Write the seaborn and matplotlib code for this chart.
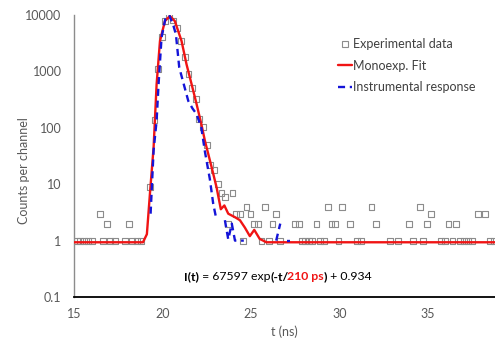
import matplotlib.pyplot as plt
import numpy as np
import pandas as pd
import seaborn as sns
from matplotlib.lines import Line2D
from matplotlib.offsetbox import AnnotationBbox, HPacker, TextArea

# ── data ──────────────────────────────────────────────────────────────────────
exp_t = [15.15, 15.36, 15.57, 15.78, 16.0, 16.45, 16.66, 16.85, 17.03, 17.32,
         17.88, 18.12, 18.26, 18.54, 18.8,
         19.3, 19.55, 19.75, 19.95, 20.16, 20.38, 20.61, 20.84, 21.05, 21.25,
         21.47, 21.69, 21.9, 22.08, 22.3, 22.5, 22.68, 22.9, 23.12, 23.34,
         23.55, 23.72, 23.96, 24.15, 24.36, 24.57, 24.75, 24.98, 25.17, 25.4,
         25.6, 25.82, 26.0, 26.22, 26.43, 26.66,
         27.47, 27.7, 27.88, 28.07, 28.26, 28.47, 28.71, 28.9, 29.15, 29.37,
         29.56, 29.77, 29.95, 30.14, 30.6, 30.98, 31.22, 31.82, 32.06, 32.85,
         33.32, 33.92, 34.15, 34.55, 34.75, 34.98, 35.18, 35.77, 35.98, 36.17,
         36.4, 36.6, 36.83, 37.05, 37.26, 37.5, 37.84, 38.22, 38.5, 38.75]
exp_counts = [1, 1, 1, 1, 1, 3, 1, 2, 1, 1,
              1, 2, 1, 1, 1,
              9, 137, 1120, 4000, 7900, 10000, 8000, 5800, 3500, 1800,
              900, 500, 320, 142, 104, 50, 22, 18, 10, 7,
              6, 2, 7, 3, 3, 1, 4, 3, 2, 2,
              1, 4, 1, 2, 3, 1,
              2, 2, 1, 1, 1, 1, 2, 1, 1, 4,
              2, 2, 1, 4, 2, 1, 1, 4, 2, 1,
              1, 2, 1, 4, 1, 2, 3, 1, 1, 2,
              1, 2, 1, 1, 1, 1, 3, 3, 1, 1]

fit_t = [15.0, 18.9, 19.12, 19.32, 19.5, 19.67, 19.86, 20.14, 20.42, 20.7,
         21.08, 21.36, 21.65, 21.93, 22.2, 22.4, 22.78, 23.06, 23.3, 23.5,
         23.72, 24.1, 24.38, 24.66, 24.94, 25.19, 25.5, 25.88, 38.8]
fit_counts = [0.934, 0.934, 1.3, 8.8, 45, 590, 3460, 7800, 9600, 7800,
              3460, 1340, 590, 263, 116, 59, 20, 8.8, 3.6, 4.2,
              3.0, 2.6, 2.3, 1.7, 1.2, 1.55, 1.07, 0.934, 0.934]

# instrumental response: zero-count channels break the line on the log axis
irf_t = [19.33, 19.5, 19.67, 19.78, 19.95, 20.16, 20.38, 20.6, 20.76, 20.95,
         21.2, 21.46, 21.7, 21.93, 22.2, 22.4, 22.68, 22.87, 23.06,
         23.53, 23.72, 23.92, 24.1, 24.3, 24.6,
         26.43, 26.66,
         27.05, 27.22]
irf_counts = [3, 40, 133, 590, 4000, 8400, 10000, 6800, 4570, 1170,
              600, 300, 220, 175, 100, 38, 12.3, 4.5, 2.3,
              2.3, 1.05, 2, 1, 1, 1,
              1, 2,
              1, 1]
irf_segment = [0] * 19 + [1] * 6 + [2] * 2 + [3] * 2

x_ticks = [15, 20, 25, 30, 35]
y_ticks = [0.1, 1, 10, 100, 1000, 10000]
y_tick_labels = ["0.1", "1", "10", "100", "1000", "10000"]

exp_df = pd.DataFrame({"t": exp_t, "counts": exp_counts})
fit_df = pd.DataFrame({"t": fit_t, "counts": fit_counts})
irf_df = pd.DataFrame({"t": irf_t, "counts": irf_counts, "segment": irf_segment})

sns.set_style("white")
plt.rcParams["font.family"] = ["Lato", "DejaVu Sans"]

GRAY_TXT = "#595959"
RED = "#f01414"
BLUE = "#1414d8"
SQ = "#8c8c8c"

fig = plt.figure(figsize=(4.95, 3.4), dpi=100)
ax = fig.add_axes([74 / 495, 1 - 297 / 340, 421 / 495, 282 / 340])
ax.set_yscale("log")

sns.scatterplot(data=exp_df, x="t", y="counts", marker="s", s=18,
                color=SQ, edgecolor=SQ, linewidth=0.8, ax=ax, zorder=2)
for coll in ax.collections:
    coll.set_facecolor("none")

sns.lineplot(data=fit_df, x="t", y="counts", estimator=None, sort=False,
             color=RED, lw=1.7, ax=ax, zorder=3)
sns.lineplot(data=irf_df, x="t", y="counts", units="segment", estimator=None,
             color=BLUE, lw=1.7, linestyle=(0, (3, 2)), legend=False,
             ax=ax, zorder=4)

ax.set_xlim(15, 38.8)
ax.set_ylim(0.1, 10000)
ax.set_xticks(x_ticks)
ax.set_xticklabels([str(v) for v in x_ticks])
ax.set_yticks(y_ticks)
ax.set_yticklabels(y_tick_labels)
ax.minorticks_off()
ax.tick_params(length=0, labelsize=9, colors=GRAY_TXT)
ax.tick_params(axis="y", pad=9)
ax.tick_params(axis="x", pad=8)

ax.set_xlabel("t (ns)", fontsize=9, color=GRAY_TXT)
ax.set_ylabel("Counts per channel", fontsize=9, color=GRAY_TXT)
ax.yaxis.set_label_coords(-0.105, 0.45)

for side in ("top", "right"):
    ax.spines[side].set_visible(False)
ax.spines["left"].set_color("#8c8c8c")
ax.spines["left"].set_linewidth(1.0)
ax.spines["bottom"].set_color("black")
ax.spines["bottom"].set_linewidth(1.3)

handles = [
    Line2D([], [], marker="s", linestyle="none", mfc="none", mec=SQ,
           mew=0.8, ms=3.8),
    Line2D([], [], color=RED, lw=1.7),
    Line2D([], [], color=BLUE, lw=1.7, linestyle=(0, (3, 2))),
]
labels = ["Experimental data", "Monoexp. Fit", "Instrumental response"]
leg = ax.legend(handles, labels, loc="upper right", bbox_to_anchor=(0.965, 0.935),
                frameon=False, fontsize=9, handlelength=1.1, handletextpad=0.1,
                labelspacing=0.75, borderaxespad=0)
for txt in leg.get_texts():
    txt.set_color("#404040")

# fit equation, with the lifetime highlighted
def piece(s, color="black", weight="normal"):
    return TextArea(s, textprops=dict(color=color, fontweight=weight, fontsize=8.8))


# the bold slash leaves a small gap, so pull the red lifetime in a touch
tau = HPacker(children=[piece("(-t/", weight="bold"),
                        piece("210 ps", RED, "bold")],
              align="baseline", pad=0, sep=-1.2)
box = HPacker(children=[piece("I(t)", weight="bold"),
                        piece(" = 67597 exp"),
                        tau,
                        piece(")", weight="bold"),
                        piece(" + 0.934")],
              align="baseline", pad=0, sep=0)
ab = AnnotationBbox(box, (0.485, 0.072), xycoords="axes fraction",
                    frameon=False, box_alignment=(0.5, 0.5))
ax.add_artist(ab)

fig.savefig("out.png", dpi=100)
